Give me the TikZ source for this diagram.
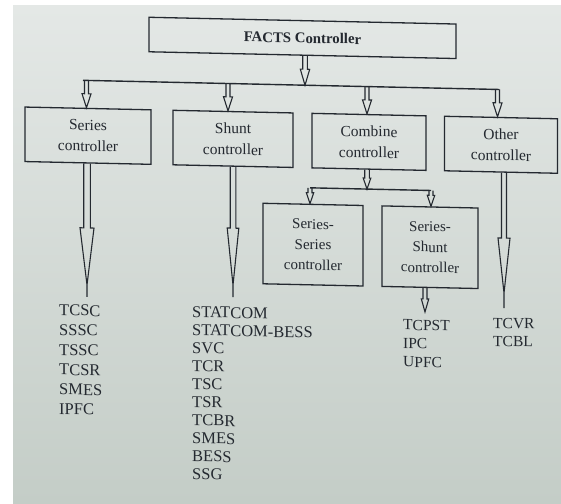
\documentclass[tikz,border=0pt]{standalone}
\usepackage{fontspec}
\setmainfont{Liberation Serif}
\usetikzlibrary{calc}
\definecolor{ink}{RGB}{36,41,48}
\definecolor{bgtop}{RGB}{228,232,230}
\definecolor{bgbot}{RGB}{196,205,199}
\tikzset{
  shaft/.store in=\harS, headw/.store in=\harW, headl/.store in=\harL, tipx/.store in=\harX,
  shaft=2, headw=4.5, headl=14, tipx=0,
  arrowline/.style={draw=ink, line width=1.1pt, line join=miter},
  % vertical hollow arrow at the x of the start point
  harrowS/.style={arrowline, to path={
    ($(\tikztostart)+(-\harS,0)$)
    -- ($(\tikztostart |- \tikztotarget)+(-\harS,-\harL)$)
    -- ($(\tikztostart |- \tikztotarget)+(-\harW,-\harL)$)
    -- ($(\tikztostart |- \tikztotarget)+(0,-\harX)$)
    -- ($(\tikztostart |- \tikztotarget)+(\harW,-\harL)$)
    -- ($(\tikztostart |- \tikztotarget)+(\harS,-\harL)$)
    -- ($(\tikztostart)+(\harS,0)$)
    ($(\tikztostart |- \tikztotarget)+(0,-\harX)$) -- (\tikztostart |- \tikztotarget)
  }},
  % vertical hollow arrow at the x of the target point
  harrowT/.style={arrowline, to path={
    ($(\tikztotarget |- \tikztostart)+(-\harS,0)$)
    -- ($(\tikztotarget)+(-\harS,-\harL)$)
    -- ($(\tikztotarget)+(-\harW,-\harL)$)
    -- ($(\tikztotarget)+(0,-\harX)$)
    -- ($(\tikztotarget)+(\harW,-\harL)$)
    -- ($(\tikztotarget)+(\harS,-\harL)$)
    -- ($(\tikztotarget |- \tikztostart)+(\harS,0)$)
    ($(\tikztotarget)+(0,-\harX)$) -- (\tikztotarget)
  }},
  box/.style={draw=ink, line width=1.3pt, inner sep=0pt, align=center, text=ink,
    font=\fontsize{15.5}{21}\selectfont},
  subbox/.style={box, font=\fontsize{15}{20.5}\selectfont},
  buswire/.style={draw=ink, line width=1.4pt},
  itemlist/.style={inner sep=0pt, align=left, text=ink, anchor=north west},
}
\begin{document}
\begin{tikzpicture}[x=1pt,y=-1pt]
\fill[white] (0,0) rectangle (561,503);
\useasboundingbox (0,0) rectangle (561,503);
\shade[top color=bgtop, bottom color=bgbot] (13,6) rectangle (561,503);
\begin{scope}[yslant=-0.022, transform shape]
  % top box
  \node[box, minimum width=307pt, minimum height=34.5pt,
        font=\bfseries\fontsize{14.8}{17}\selectfont] (facts) at (302.5,31.25) {FACTS Controller};
  % main bus
  \coordinate (busL) at (83,78.5);
  \coordinate (busR) at (499,78.5);
  \coordinate (b0) at (305,78.5);
  \coordinate (b1) at (86.5,78.5);
  \coordinate (b2) at (228,78.5);
  \coordinate (b3) at (367,78.5);
  \coordinate (b4) at (497.5,78.5);
  % second-level boxes
  \node[box, minimum width=126pt, minimum height=54.5pt] (series)  at (88,133.75)  {Series\\controller};
  \node[box, minimum width=120pt, minimum height=54.5pt] (shunt)   at (233,133.75) {Shunt\\controller};
  \node[box, minimum width=114pt, minimum height=54.5pt] (combine) at (369,133.75) {Combine\\controller};
  \node[box, minimum width=113pt, minimum height=54.5pt] (other)   at (501,133.75) {Other\\controller};
  % sub bus
  \coordinate (c0) at (367,181);
  \coordinate (c1) at (310,181);
  \coordinate (c2) at (431,181);
  \node[subbox, minimum width=100pt, minimum height=80.5pt] (ss) at (313,237.75) {Series-\\Series\\controller};
  \node[subbox, minimum width=96pt, minimum height=80.5pt]  (sh) at (430,237.75) {Series-\\Shunt\\controller};
  % arrow ends
  \coordinate (e1) at (87,295);
  \coordinate (e2) at (233,292);
  \coordinate (e3) at (425,302.6);
  \coordinate (e4) at (504,297);
  % lists
  \node[itemlist, font=\fontsize{16.5}{19.8}\selectfont] (serList) at (59,303)
    {TCSC\\SSSC\\TSSC\\TCSR\\SMES\\IPFC};
  \node[itemlist, font=\fontsize{16.5}{18}\selectfont] (shList) at (192,302)
    {STATCOM\\STATCOM-BESS\\SVC\\TCR\\TSC\\TSR\\TCBR\\SMES\\BESS\\SSG};
  \node[itemlist, font=\fontsize{15.5}{18.5}\selectfont] (comList) at (403,310.5)
    {TCPST\\IPC\\UPFC};
  \node[itemlist, font=\fontsize{15.5}{18}\selectfont] (othList) at (493,306.8)
    {TCVR\\TCBL};
  % connectors
  \draw[buswire] (busL) -- (busR);
  \draw[harrowT, shaft=2.3, headw=4.7, headl=16] (facts.south) to (b0);
  \draw[harrowS] (b1) to (series.north);
  \draw[harrowS] (b2) to (shunt.north);
  \draw[harrowS] (b3) to (combine.north);
  \draw[harrowS] (b4) to (other.north);
  \draw[harrowT, shaft=2.3, headw=3.8, headl=11] (combine.south) to (c0);
  \draw[buswire] (c1) -- (c2);
  \draw[harrowS, shaft=2, headw=3.7, headl=11] (c1) to (ss.north);
  \draw[harrowS, shaft=2, headw=3.7, headl=11] (c2) to (sh.north);
  \draw[harrowT, shaft=2, headw=3.7, headl=13] (sh.south) to (e3);
  \draw[harrowT, shaft=3.3, headw=7, headl=69, tipx=12] (series.south) to (e1);
  \draw[harrowT, shaft=2.8, headw=5.8, headl=69, tipx=12] (shunt.south) to (e2);
  \draw[harrowT, shaft=2.5, headw=6, headl=70, tipx=15] (other.south) to (e4);
\end{scope}
\end{tikzpicture}
\end{document}
